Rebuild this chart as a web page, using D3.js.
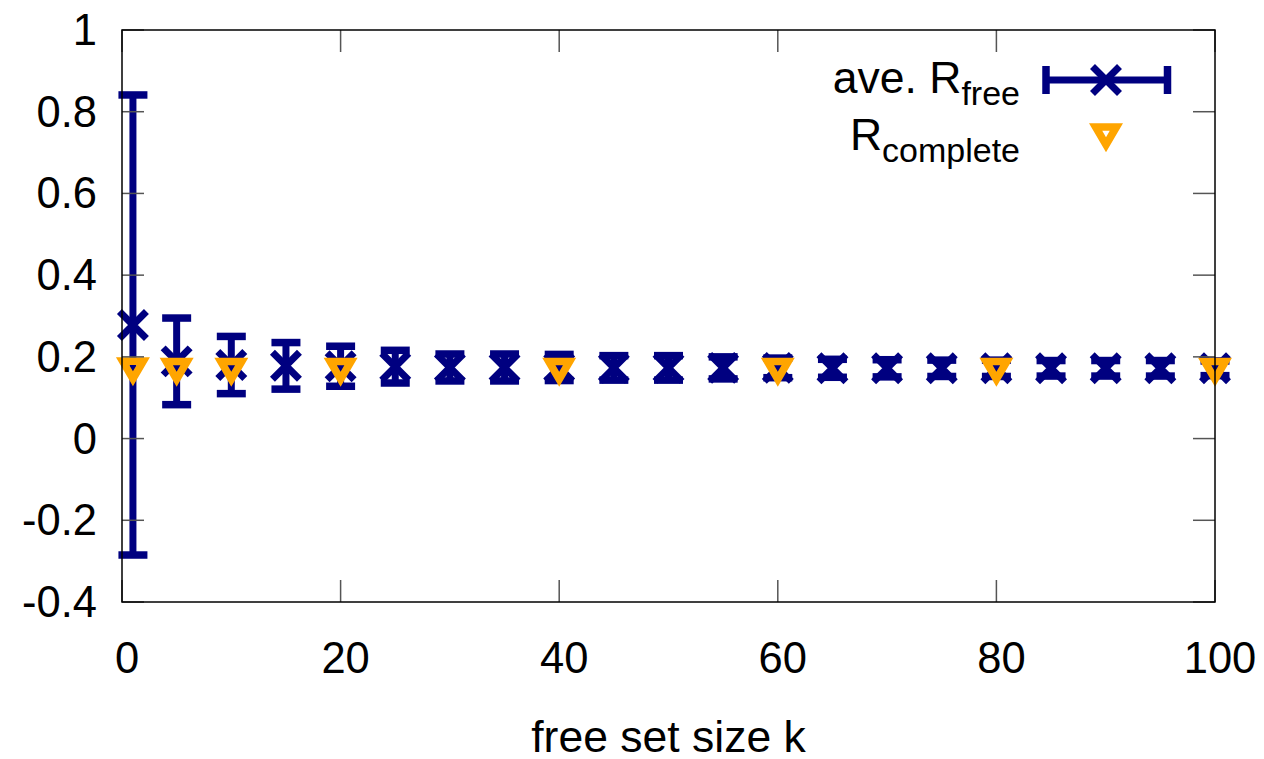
<html>
<head>
<meta charset="utf-8">
<style>
  body { margin: 0; background: #fff; }
  text { font-family: "Liberation Sans", Arial, sans-serif; fill: #000; }
</style>
<script src="https://cdn.jsdelivr.net/npm/d3@7"></script>
</head>
<body>
<div id="chart"></div>
<script>
// free set size k, average R_free and its spread
let kValues = [1, 5, 10, 15, 20, 25, 30, 35, 40, 45, 50, 55, 60, 65, 70, 75, 80, 85, 90, 95, 100];
let rFreeMean = [0.278, 0.189, 0.180, 0.178, 0.177, 0.176, 0.174, 0.174, 0.174, 0.173, 0.173,
                 0.173, 0.173, 0.172, 0.172, 0.172, 0.172, 0.172, 0.172, 0.172, 0.172];
let rFreeErr = [0.563, 0.106, 0.070, 0.057, 0.049, 0.040, 0.033, 0.033, 0.032, 0.030, 0.030,
                0.027, 0.024, 0.022, 0.021, 0.020, 0.020, 0.019, 0.019, 0.019, 0.018];
// R_complete
let kComplete = [1, 5, 10, 20, 40, 60, 80, 100];
let rComplete = [0.175, 0.174, 0.174, 0.174, 0.174, 0.174, 0.174, 0.174];

let xTicks = [0, 20, 40, 60, 80, 100];
let yTicks = [-0.4, -0.2, 0, 0.2, 0.4, 0.6, 0.8, 1];
let yTickLabels = ["-0.4", "-0.2", "0", "0.2", "0.4", "0.6", "0.8", "1"];

let navy = "#000080";
let orange = "#ffa500";
let fontSize = 43.5;

function getConfig() {
    let width = 1264, height = 759;
    let margin = { top: 30, bottom: 157, left: 122, right: 49 };
    let svg = d3.select("#chart").append("svg")
        .attr("width", width)
        .attr("height", height);
    return { width, height, margin, svg };
}

function getScales(config) {
    let { width, height, margin } = config;
    let xScale = d3.scaleLinear().domain([0, 100]).range([margin.left, width - margin.right]);
    let yScale = d3.scaleLinear().domain([-0.4, 1]).range([height - margin.bottom, margin.top]);
    return { xScale, yScale };
}

// downward triangle with a small hole, like gnuplot's point type
function trianglePath(cx, cy) {
    let outer = [[-17, -9.7], [17, -9.7], [0, 19.3]];
    let inner = outer.map(p => [p[0] * 0.22, p[1] * 0.22]);
    let ring = pts => "M" + pts.map(p => (cx + p[0]) + "," + (cy + p[1])).join("L") + "Z";
    return ring(outer) + ring(inner.slice().reverse());
}

function drawCross(g, cx, cy) {
    let a = 13.5;
    g.append("path")
        .attr("d", `M${cx - a},${cy - a}L${cx + a},${cy + a}M${cx - a},${cy + a}L${cx + a},${cy - a}`)
        .attr("stroke", navy).attr("stroke-width", 7).attr("fill", "none");
}

function drawData(config, scales) {
    let { svg } = config;
    let { xScale, yScale } = scales;
    let g = svg.append("g");
    let capW = 14.5;

    kValues.forEach((k, i) => {
        let x = xScale(k);
        let top = yScale(rFreeMean[i] + rFreeErr[i]);
        let bot = yScale(rFreeMean[i] - rFreeErr[i]);
        g.append("line").attr("x1", x).attr("x2", x).attr("y1", top).attr("y2", bot)
            .attr("stroke", navy).attr("stroke-width", 7);
        [top, bot].forEach(y => {
            g.append("line").attr("x1", x - capW).attr("x2", x + capW).attr("y1", y).attr("y2", y)
                .attr("stroke", navy).attr("stroke-width", 7.5);
        });
        drawCross(g, x, yScale(rFreeMean[i]));
    });

    g.selectAll("path.tri")
        .data(kComplete)
        .enter()
        .append("path")
        .attr("class", "tri")
        .attr("d", (d, i) => trianglePath(xScale(d), yScale(rComplete[i])))
        .attr("fill", orange)
        .attr("fill-rule", "evenodd");
}

function drawAxes(config, scales) {
    let { svg } = config;
    let { xScale, yScale } = scales;
    let [x0, x1] = xScale.range();
    let [y0, y1] = yScale.range();
    let tickLen = 22;
    let g = svg.append("g");

    xTicks.forEach(t => {
        let x = xScale(t);
        g.append("line").attr("x1", x).attr("x2", x).attr("y1", y0).attr("y2", y0 - tickLen)
            .attr("stroke", "#555").attr("stroke-width", 1.5);
        g.append("line").attr("x1", x).attr("x2", x).attr("y1", y1).attr("y2", y1 + tickLen)
            .attr("stroke", "#555").attr("stroke-width", 1.5);
        g.append("text").attr("x", x + 5).attr("y", 673)
            .attr("text-anchor", "middle").attr("font-size", fontSize).text(t);
    });

    yTicks.forEach((t, i) => {
        let y = yScale(t);
        g.append("line").attr("x1", x0).attr("x2", x0 + tickLen).attr("y1", y).attr("y2", y)
            .attr("stroke", "#555").attr("stroke-width", 1.5);
        g.append("line").attr("x1", x1).attr("x2", x1 - tickLen).attr("y1", y).attr("y2", y)
            .attr("stroke", "#555").attr("stroke-width", 1.5);
        g.append("text").attr("x", 97).attr("y", y + 15)
            .attr("text-anchor", "end").attr("font-size", fontSize).text(yTickLabels[i]);
    });

    g.append("rect").attr("x", x0).attr("y", y1).attr("width", x1 - x0).attr("height", y0 - y1)
        .attr("fill", "none").attr("stroke", "#000").attr("stroke-width", 1.5);

    g.append("text").attr("x", (x0 + x1) / 2).attr("y", 752)
        .attr("text-anchor", "middle").attr("font-size", fontSize + 1).text("free set size k");
}

function drawLegend(config) {
    let { svg } = config;
    let g = svg.append("g");

    let t1 = g.append("text").attr("x", 1020).attr("y", 93)
        .attr("text-anchor", "end").attr("font-size", fontSize + 1);
    t1.append("tspan").text("ave. R");
    t1.append("tspan").attr("dy", 12).attr("font-size", 34).text("free");

    let t2 = g.append("text").attr("x", 1020).attr("y", 150)
        .attr("text-anchor", "end").attr("font-size", fontSize + 1);
    t2.append("tspan").text("R");
    t2.append("tspan").attr("dy", 12).attr("font-size", 34).text("complete");

    let ly = 80, lx0 = 1046, lx1 = 1167.5;
    g.append("line").attr("x1", lx0).attr("x2", lx1).attr("y1", ly).attr("y2", ly)
        .attr("stroke", navy).attr("stroke-width", 7);
    [lx0, lx1].forEach(x => {
        g.append("line").attr("x1", x).attr("x2", x).attr("y1", ly - 14).attr("y2", ly + 14)
            .attr("stroke", navy).attr("stroke-width", 7.5);
    });
    drawCross(g, 1106, ly);
    g.append("path").attr("d", trianglePath(1106, 133))
        .attr("fill", orange).attr("fill-rule", "evenodd");
}

function showChart() {
    let config = getConfig();
    let scales = getScales(config);
    drawData(config, scales);
    drawAxes(config, scales);
    drawLegend(config);
}
showChart();
</script>
</body>
</html>
